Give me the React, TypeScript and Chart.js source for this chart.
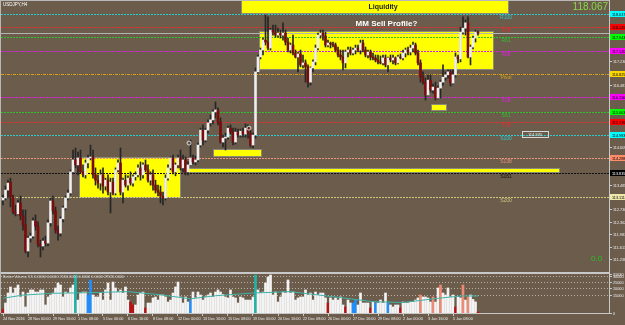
import React, { useEffect, useRef } from "react";
import { Chart, registerables } from "chart.js";

Chart.register(...registerables);

const FONT = "'Liberation Sans', Arial, sans-serif";
const BG = "#6B5C4C";

// ---------- DATA ----------
// USDJPY H4 candles: [open, high, low, close]
const ohlc: [number, number, number, number][] = [
  [113.02,113.17,112.87,113.08],[113.08,113.44,113.02,113.32],[113.32,113.62,113.08,113.53],[113.56,113.68,112.81,113.11],
  [113.11,113.17,112.60,112.66],[112.66,112.87,112.54,112.60],[112.60,113.02,112.57,112.93],[112.93,113.14,112.42,112.54],
  [112.54,112.72,112.11,112.27],[112.27,112.72,111.42,111.48],[111.48,111.93,111.30,111.87],[111.87,112.02,111.75,111.93],
  [111.93,112.48,111.87,112.39],[112.39,112.57,112.11,112.23],[112.23,112.36,111.60,111.69],[111.69,111.81,111.30,111.63],
  [111.63,111.87,111.51,111.78],[111.78,111.93,111.63,111.72],[111.72,112.42,111.63,112.33],[112.33,113.08,112.23,112.99],
  [112.99,113.14,112.60,112.69],[112.69,112.81,112.02,112.11],[112.11,112.23,111.81,112.02],[112.02,112.51,111.93,112.45],
  [112.45,112.84,112.36,112.78],[112.78,113.14,112.72,113.08],[113.08,113.32,113.02,113.23],[113.23,113.93,113.17,113.87],
  [113.87,114.53,113.81,114.23],[114.23,114.59,113.99,114.08],[114.08,114.47,113.78,114.29],[114.29,114.53,113.84,113.87],
  [113.87,114.08,113.72,113.78],[113.78,114.23,113.68,114.14],[114.14,114.38,113.99,114.29],[114.29,114.68,114.23,114.32],
  [114.32,114.53,113.68,113.78],[113.78,113.99,113.47,113.62],[113.62,113.78,113.38,113.53],[113.53,113.93,113.32,113.78],
  [113.78,113.99,113.23,113.44],[113.44,113.68,113.32,113.62],[113.62,113.78,113.17,113.26],[113.26,113.68,112.63,113.56],
  [113.56,113.68,113.17,113.23],[113.23,113.99,113.17,113.93],[113.93,114.23,113.87,114.14],[114.14,114.59,113.17,113.26],
  [113.26,113.68,112.93,113.62],[113.62,113.78,113.41,113.47],[113.47,113.75,113.32,113.68],[113.68,113.87,113.47,113.53],
  [113.53,113.78,113.44,113.72],[113.72,113.87,113.62,113.78],[113.78,114.08,113.72,113.99],[113.99,114.17,113.62,113.78],
  [113.78,114.14,113.68,114.08],[114.08,114.23,113.87,113.93],[113.93,114.08,113.56,113.62],[113.62,113.87,113.47,113.78],
  [113.78,113.93,113.32,113.47],[113.47,113.62,113.23,113.32],[113.32,113.47,113.14,113.26],[113.26,113.44,112.93,113.14],
  [113.14,113.26,112.87,113.08],[113.08,113.78,113.02,113.68],[113.68,114.08,113.62,113.99],[113.99,114.32,113.93,114.29],
  [114.29,114.38,113.81,113.87],[113.87,114.14,113.75,114.08],[114.08,114.38,113.99,114.29],[114.29,114.53,113.93,113.99],
  [113.99,114.38,113.87,114.23],[114.23,114.32,113.78,113.87],[113.87,114.17,113.78,114.08],[114.08,114.83,114.05,114.29],
  [114.29,114.38,114.11,114.17],[114.17,114.35,114.08,114.23],[114.23,114.74,114.17,114.68],[114.68,115.19,114.62,115.13],
  [115.13,115.29,114.68,114.83],[114.83,115.19,114.77,115.13],[115.13,115.44,115.04,115.35],[115.35,115.59,115.25,115.44],
  [115.44,115.74,115.32,115.68],[115.68,115.98,115.50,115.74],[115.74,115.80,115.29,115.38],[115.38,115.50,114.74,114.77],
  [114.77,114.98,114.62,114.89],[114.89,115.04,114.53,114.92],[114.92,115.25,114.86,115.19],[115.19,115.29,115.01,115.07],
  [115.07,115.19,114.68,114.77],[114.77,115.19,114.71,115.07],[115.07,115.16,114.92,114.98],[114.98,115.16,114.92,115.10],
  [115.10,115.19,114.92,115.01],[115.01,115.32,114.92,115.19],[115.19,115.29,114.89,115.04],[115.04,115.13,114.62,114.68],
  [114.68,115.04,114.59,114.98],[114.98,117.01,114.89,116.89],[116.89,117.40,116.86,117.34],[117.34,117.61,117.28,117.55],
  [117.55,117.91,117.40,117.85],[117.85,118.61,117.70,117.79],[117.79,118.55,117.55,117.61],[117.61,118.21,117.55,118.15],
  [118.15,118.30,118.00,118.09],[118.09,118.30,117.94,118.00],[118.00,118.21,117.94,118.06],[118.06,118.15,117.91,118.00],
  [118.00,118.37,117.85,118.06],[118.06,118.15,117.70,117.79],[117.79,117.91,117.49,117.55],[117.55,117.76,117.46,117.70],
  [117.70,118.00,117.40,117.46],[117.46,117.55,117.31,117.34],[117.34,117.49,116.89,117.43],[117.43,117.55,117.04,117.10],
  [117.10,117.40,117.01,117.16],[117.16,117.25,116.58,117.04],[117.04,117.10,116.43,116.58],[116.58,117.04,116.49,117.01],
  [117.01,117.25,116.89,117.19],[117.19,117.70,117.10,117.61],[117.61,118.06,117.55,118.00],[118.00,118.15,117.91,118.06],
  [118.06,118.15,117.85,117.97],[117.97,118.09,117.64,117.70],[117.70,117.85,117.64,117.76],[117.76,117.79,117.61,117.73],
  [117.73,117.79,117.64,117.70],[117.70,117.76,117.49,117.55],[117.55,117.64,117.34,117.40],[117.40,117.55,117.25,117.34],
  [117.34,117.55,116.95,117.16],[117.16,117.55,117.01,117.49],[117.49,117.64,117.34,117.55],[117.55,117.64,117.40,117.46],
  [117.46,117.61,117.40,117.55],[117.55,117.70,117.43,117.61],[117.61,117.70,117.49,117.55],[117.55,117.85,117.43,117.76],
  [117.76,117.85,117.49,117.55],[117.55,117.64,117.34,117.40],[117.40,117.55,117.31,117.49],[117.49,117.55,117.25,117.34],
  [117.34,117.46,117.25,117.31],[117.31,117.40,117.19,117.25],[117.25,117.40,117.13,117.19],[117.19,117.37,117.13,117.16],
  [117.16,117.40,117.10,117.31],[117.31,117.40,117.04,117.10],[117.10,117.34,116.89,117.31],[117.31,117.40,117.19,117.25],
  [117.25,117.40,117.13,117.31],[117.31,117.34,117.10,117.16],[117.16,117.40,117.13,117.34],[117.34,117.43,117.28,117.31],
  [117.31,117.55,117.25,117.46],[117.46,117.61,117.34,117.55],[117.55,117.64,117.40,117.49],[117.49,117.70,117.40,117.61],
  [117.61,117.79,117.49,117.70],[117.70,117.76,117.40,117.46],[117.46,117.55,117.10,117.16],[117.16,117.25,116.58,116.73],
  [116.73,116.89,116.52,116.58],[116.58,116.70,116.04,116.19],[116.19,116.80,116.16,116.64],[116.64,116.80,116.28,116.34],
  [116.34,116.52,116.25,116.43],[116.43,116.58,116.04,116.10],[116.10,116.46,116.07,116.40],[116.40,116.64,116.10,116.58],
  [116.58,117.10,116.49,116.73],[116.73,116.89,116.64,116.80],[116.80,116.95,116.70,116.89],[116.89,116.95,116.46,116.55],
  [116.55,116.95,116.52,116.80],[116.80,117.46,116.73,117.34],[117.34,117.40,117.16,117.28],[117.28,118.24,117.19,118.09],
  [118.09,118.55,118.03,118.21],[118.21,118.46,118.00,118.37],[118.37,118.55,117.31,117.34],[117.34,117.70,117.10,117.64],
  [117.64,117.97,117.58,117.91],[117.91,118.15,117.79,118.09],[118.09,118.12,118.00,118.067],
];

// Better Volume values per bar
const volumes: number[] = [
  3000,8100,16200,21100,16200,20300,22700,13000,17000,4900,16200,18700,18700,17000,17000,18700,18700,6500,13000,14600,
  16200,20300,24300,22700,13000,17000,16200,20300,22700,30800,10500,16200,17000,17000,14600,26800,14600,13000,13000,16200,
  10500,18700,24300,10500,25100,20300,17000,18700,16200,21100,10500,8900,6500,6500,14600,16200,17000,4100,8100,8100,
  12200,13000,10500,14600,14600,13000,8900,10500,16200,21100,25100,13000,8100,13000,8900,10500,17000,12200,17000,14600,
  10500,13000,14600,16200,13000,17000,18700,17000,15000,13000,12200,18700,13000,12200,8100,13000,12200,10500,10500,10500,
  13000,30800,18700,16200,17000,24300,29200,30800,14600,17000,8900,13000,17000,16200,26800,16200,17000,10500,12200,13000,
  13000,18700,14600,16200,10500,17000,14600,16200,16200,12200,8100,12200,10500,12200,10500,13000,6500,4900,10500,8100,
  8100,10500,6500,16200,8100,8100,8100,4100,8900,8100,8100,10500,8100,16200,8100,6500,4900,6500,6500,4100,
  8900,8100,8100,8900,8900,10500,12200,14600,13000,13000,12200,8900,13000,8900,20300,22700,16200,14600,20300,13000,
  14600,4900,13000,12200,22700,10500,13000,14600,11000,9000,800,
];
// bar index -> Better Volume class (r climax, b low, t churn, s climax-churn); others normal
const volClass: Record<number, string> = {
  0: "r", 29: "t", 34: "b", 35: "b", 51: "r", 52: "r", 57: "r", 75: "b", 101: "t", 130: "r", 137: "r",
  140: "b", 141: "b", 147: "r", 149: "b", 154: "b", 159: "r", 167: "s", 172: "s", 175: "s", 181: "r",
  184: "s", 186: "s", 190: "r",
};
const volAvgBars = [0, 8, 20, 35, 50, 62, 75, 85, 100, 115, 132, 148, 160, 174, 183, 190];
const volAvg = [12000, 14500, 16000, 16500, 17300, 15000, 11500, 14000, 16200, 17300, 13200, 9200, 8500, 11900, 13800, 13800];
const volLevels = [30000, 25000, 20000, 15000];
const volMax = 31630;
const volHeader = "Better Volume 1.5 0.0000 0.0000 2556.0000 0.0000 0.0000 29526.0000";

const timeLabelBars = [0, 10, 20, 30, 40, 50, 60, 70, 80, 90, 100, 110, 120, 130, 140, 150, 160, 170, 180];
const timeLabels = [
  "24 Nov 2016", "28 Nov 00:00", "29 Nov 16:00", "1 Dec 08:00", "5 Dec 00:00", "6 Dec 16:00", "8 Dec 08:00",
  "12 Dec 00:00", "13 Dec 16:00", "15 Dec 08:00", "19 Dec 00:00", "20 Dec 16:00", "22 Dec 08:00", "26 Dec 00:00",
  "27 Dec 16:00", "29 Dec 08:00", "2 Jan 00:00", "3 Jan 16:00", "5 Jan 08:00",
];

const priceTicks = [117.230, 116.481, 114.609, 113.485, 112.736, 112.362, 111.987, 111.613, 111.238];

const pivotNames = ["R100", "R78", "R61", "R38", "Pivot", "S38", "S61", "S78", "S100", "S138", "S161", "S200"];
const pivotPrices = [118.637, 118.245, 117.943, 117.520, 116.825, 116.116, 115.663, 115.376, 114.983, 114.288, 113.835, 113.111];
const pivotLabelBar = 201.2;
const bidPrice = 118.067;
const symbolTitle = "USDJPY,H4";
const indicatorValue = "0.0";

// rectangles: [from bar, to bar, high price, low price]
const boxFrom = [30.4, 102.2, 95.2, 84, 73.6, 171.2];
const boxTo = [71.2, 196.4, 202.4, 103.6, 222.8, 177.6];
const boxHigh = [114.32, 118.12, 119.06, 114.56, 113.99, 115.92];
const boxLow = [113.08, 116.95, 118.64, 114.32, 113.84, 115.71];

const textBars = [152, 153.4];
const textPrices = [118.85, 118.35];
const textStrings = ["Liquidity", "MM Sell Profile?"];

const markerBars = [74.4, 98.4];
const markerPrices = [114.74, 115.19];

const priceTagFrom = 207.6;
const priceTagTo = 218;
const priceTagPrice = 114.97;

const X_MIN = -0.8;
const X_MAX = 242.4;
const P_MIN = 110.876;
const P_MAX = 119.03;

// ---------- STYLE ----------
const pivotColors = ["#2EC8C8", "#E03030", "#30C030", "#E020E0", "#D4A017", "#E020E0", "#30C030", "#E03030", "#2EC8C8", "#E9967A", "#101010", "#CFC67E"];
const pivotTagColors = ["#00FFFF", "#FF0000", "#00FF00", "#FF00FF", "#FFD700", "#FF00FF", "#00FF00", "#FF0000", "#00FFFF", "#FF8C69", "#000000", "#EEE8AA"];
const volColorMap: Record<string, string> = { r: "#B81212", b: "#1E8FFF", t: "#1FB5A8", s: "#F08A74" };

const mainDecor = {
  id: "mainDecor",
  beforeDatasetsDraw(chart: any) {
    const { ctx, chartArea: a, scales } = chart;
    const x = scales.x, y = scales.y;
    ctx.save();
    ctx.beginPath();
    ctx.rect(a.left, a.top, a.right - a.left, a.bottom - a.top);
    ctx.clip();
    for (let k = 0; k < boxFrom.length; k++) {
      const x0 = Math.round(x.getPixelForValue(boxFrom[k]));
      const x1 = Math.round(x.getPixelForValue(boxTo[k]));
      const y0 = Math.round(y.getPixelForValue(boxHigh[k]));
      const y1 = Math.round(y.getPixelForValue(boxLow[k]));
      ctx.fillStyle = "#FFFF00";
      ctx.fillRect(x0, y0, x1 - x0, y1 - y0);
      ctx.strokeStyle = "#8A8A78";
      ctx.lineWidth = 1;
      ctx.strokeRect(x0 + 0.5, y0 + 0.5, x1 - x0 - 1, y1 - y0 - 1);
    }
    for (let k = 0; k < pivotPrices.length; k++) {
      const py = Math.round(y.getPixelForValue(pivotPrices[k])) + 0.5;
      ctx.strokeStyle = pivotColors[k];
      ctx.lineWidth = 1;
      ctx.setLineDash(pivotNames[k] === "Pivot" ? [3, 1, 1, 1] : [2, 1]);
      ctx.beginPath();
      ctx.moveTo(a.left, py);
      ctx.lineTo(a.right, py);
      ctx.stroke();
    }
    ctx.setLineDash([]);
    const by = Math.round(y.getPixelForValue(bidPrice)) + 0.5;
    ctx.strokeStyle = "#B4B4B4";
    ctx.beginPath();
    ctx.moveTo(a.left, by);
    ctx.lineTo(a.right, by);
    ctx.stroke();
    ctx.restore();
  },
  afterDatasetsDraw(chart: any) {
    const { ctx, scales } = chart;
    const x = scales.x, y = scales.y;
    ctx.save();
    ctx.font = `5px ${FONT}`;
    ctx.textAlign = "center";
    ctx.textBaseline = "top";
    for (let k = 0; k < pivotPrices.length; k++) {
      ctx.fillStyle = pivotColors[k];
      ctx.fillText(pivotNames[k], x.getPixelForValue(pivotLabelBar), y.getPixelForValue(pivotPrices[k]) + 1);
    }
    ctx.textBaseline = "middle";
    ctx.font = `bold 7px ${FONT}`;
    ctx.fillStyle = "#1E1E14";
    ctx.fillText(textStrings[0], x.getPixelForValue(textBars[0]), y.getPixelForValue(textPrices[0]));
    ctx.font = `bold 8px ${FONT}`;
    ctx.fillStyle = "#FFFFFF";
    ctx.fillText(textStrings[1], x.getPixelForValue(textBars[1]), y.getPixelForValue(textPrices[1]));
    const tx0 = Math.round(x.getPixelForValue(priceTagFrom));
    const tx1 = Math.round(x.getPixelForValue(priceTagTo));
    const ty = Math.round(y.getPixelForValue(priceTagPrice));
    ctx.strokeStyle = "#D8D8D8";
    ctx.lineWidth = 1;
    ctx.strokeRect(tx0 + 0.5, ty - 3.5, tx1 - tx0, 6);
    ctx.fillStyle = "#EDEDED";
    ctx.font = `4px ${FONT}`;
    ctx.fillText(priceTagPrice.toFixed(3), (tx0 + tx1) / 2, ty);
    ctx.restore();
  },
  afterDraw(chart: any) {
    const { ctx, chartArea: a, scales, height } = chart;
    const y = scales.y;
    ctx.save();
    ctx.fillStyle = "#B8B8B8";
    ctx.fillRect(0, 0, a.right, 1);
    ctx.fillRect(0, 0, 1, height);
    ctx.fillStyle = "#C8C8C8";
    ctx.fillRect(a.right, 0, 1, height);
    ctx.font = `3.8px ${FONT}`;
    ctx.textAlign = "left";
    ctx.textBaseline = "middle";
    for (const p of priceTicks) {
      const py = Math.round(y.getPixelForValue(p));
      ctx.fillStyle = "#C8C8C8";
      ctx.fillRect(a.right, py, 3, 1);
      ctx.fillStyle = "#ECECEC";
      ctx.fillText(p.toFixed(3), a.right + 4, py + 0.5);
    }
    for (let k = 0; k < pivotPrices.length; k++) {
      const py = Math.round(y.getPixelForValue(pivotPrices[k]));
      ctx.fillStyle = pivotTagColors[k];
      ctx.fillRect(a.right + 1, py - 3, 16, 6);
      ctx.fillStyle = pivotTagColors[k] === "#000000" ? "#FFFFFF" : "#000000";
      ctx.fillText(pivotPrices[k].toFixed(3), a.right + 3, py + 0.5);
    }
    ctx.font = `10px ${FONT}`;
    ctx.textAlign = "right";
    ctx.textBaseline = "top";
    ctx.fillStyle = "#86D84A";
    ctx.fillText(bidPrice.toFixed(3), a.right - 1, 2);
    ctx.font = `8px ${FONT}`;
    ctx.textAlign = "left";
    ctx.textBaseline = "middle";
    ctx.fillStyle = "#22C422";
    ctx.fillText(indicatorValue, a.right - 18, 259);
    ctx.font = `4.5px ${FONT}`;
    ctx.textBaseline = "top";
    ctx.fillStyle = "#FFFFFF";
    ctx.fillText(symbolTitle, 3, 3);
    ctx.restore();
  },
};

const volDecor = {
  id: "volDecor",
  beforeDatasetsDraw(chart: any) {
    const { ctx, chartArea: a, scales } = chart;
    const y = scales.y;
    ctx.save();
    ctx.strokeStyle = "#B9B0A4";
    ctx.lineWidth = 1;
    ctx.setLineDash([1, 2]);
    for (const v of volLevels) {
      const py = Math.round(y.getPixelForValue(v)) + 0.5;
      ctx.beginPath();
      ctx.moveTo(a.left, py);
      ctx.lineTo(a.right, py);
      ctx.stroke();
    }
    ctx.restore();
  },
  afterDraw(chart: any) {
    const { ctx, chartArea: a, scales } = chart;
    const y = scales.y;
    ctx.save();
    ctx.fillStyle = "#C8C8C8";
    ctx.fillRect(0, 0, a.right, 2);
    ctx.fillRect(a.right, 0, 1, a.bottom + 1);
    ctx.fillStyle = "#B8B8B8";
    ctx.fillRect(0, 0, 1, a.bottom);
    ctx.font = `3.8px ${FONT}`;
    ctx.textAlign = "left";
    ctx.textBaseline = "middle";
    const lv = [volMax, ...volLevels, 0];
    for (const v of lv) {
      const py = Math.round(y.getPixelForValue(v));
      ctx.fillStyle = "#C8C8C8";
      ctx.fillRect(a.right, py, 3, 1);
      ctx.fillStyle = "#ECECEC";
      ctx.fillText(String(v), a.right + 4, py + 0.5);
    }
    ctx.font = `3.8px ${FONT}`;
    ctx.textBaseline = "middle";
    ctx.fillStyle = "#DADADA";
    ctx.fillText(volHeader, 3, a.top + 2.5);
    ctx.restore();
  },
};

export default function App() {
  const mainRef = useRef<HTMLCanvasElement>(null);
  const volRef = useRef<HTMLCanvasElement>(null);

  useEffect(() => {
    Chart.defaults.font.family = FONT;
    const wickData = ohlc.map((c, i) => ({ x: i, y: [c[2], c[1]] }));
    const bodyData = ohlc.map((c, i) => ({ x: i, y: [Math.min(c[0], c[3]), Math.max(c[0], c[3])] }));
    const bodyColors = ohlc.map((c) => (c[3] >= c[0] ? "#EEEEEE" : "#7B0C0C"));
    const markers = markerBars.map((b, k) => ({ x: b, y: markerPrices[k] }));

    const main = new Chart(mainRef.current as HTMLCanvasElement, {
      type: "bar",
      data: {
        datasets: [
          {
            type: "scatter",
            data: markers,
            pointStyle: "circle",
            pointRadius: 2,
            borderColor: "#D8D8D8",
            backgroundColor: "rgba(0,0,0,0)",
            borderWidth: 1,
            order: 0,
          } as any,
          {
            data: bodyData,
            backgroundColor: bodyColors,
            barThickness: 2,
            grouped: false,
            minBarLength: 1,
            order: 1,
          } as any,
          {
            data: wickData,
            backgroundColor: "#262626",
            barThickness: 1,
            grouped: false,
            order: 2,
          } as any,
        ],
      },
      options: {
        responsive: false,
        animation: false,
        devicePixelRatio: 1,
        events: [],
        layout: { autoPadding: false, padding: { left: 1, right: 16, top: 1, bottom: 1 } },
        plugins: { legend: { display: false }, tooltip: { enabled: false } },
        scales: {
          x: { type: "linear", min: X_MIN, max: X_MAX, offset: false, display: false, grid: { offset: false } },
          y: { type: "linear", min: P_MIN, max: P_MAX, display: false },
        },
      } as any,
      plugins: [mainDecor],
    });

    const volData = volumes.map((v, i) => ({ x: i, y: v }));
    const volColors = volumes.map((_, i) => volColorMap[volClass[i]] || "#F4F4F4");
    const avgData = volAvgBars.map((b, k) => ({ x: b, y: volAvg[k] }));

    const vol = new Chart(volRef.current as HTMLCanvasElement, {
      type: "bar",
      data: {
        datasets: [
          {
            type: "line",
            data: avgData,
            borderColor: "#3FB3A8",
            borderWidth: 1,
            pointRadius: 0,
            order: 0,
          } as any,
          {
            data: volData,
            backgroundColor: volColors,
            barThickness: 2,
            grouped: false,
            order: 1,
          } as any,
        ],
      },
      options: {
        responsive: false,
        animation: false,
        devicePixelRatio: 1,
        events: [],
        layout: { autoPadding: false, padding: { left: 1, right: 16, top: 2, bottom: 0 } },
        plugins: { legend: { display: false }, tooltip: { enabled: false } },
        scales: {
          x: {
            type: "linear",
            min: X_MIN,
            max: X_MAX,
            offset: false,
            afterBuildTicks: (s: any) => {
              s.ticks = timeLabelBars.map((v) => ({ value: v }));
            },
            afterFit: (s: any) => {
              s.height = 12;
            },
            ticks: {
              autoSkip: false,
              maxRotation: 0,
              minRotation: 0,
              align: "start",
              padding: 1,
              font: { size: 3.8, family: FONT },
              color: "#ECECEC",
              callback: (_v: any, i: number) => timeLabels[i] ?? "",
            },
            grid: { drawOnChartArea: false, tickLength: 3, color: "#C8C8C8", offset: false },
            border: { display: true, color: "#C8C8C8" },
          },
          y: { type: "linear", min: 0, max: volMax, display: false },
        },
      } as any,
      plugins: [volDecor],
    });

    return () => {
      main.destroy();
      vol.destroy();
    };
  }, []);

  return (
    <div
      style={{
        position: "fixed",
        left: 0,
        top: 0,
        width: 625,
        height: 325,
        background: BG,
        overflow: "hidden",
      }}
    >
      <canvas
        ref={mainRef}
        width={625}
        height={272}
        style={{ position: "absolute", left: 0, top: 0, width: 625, height: 272 }}
      />
      <canvas
        ref={volRef}
        width={625}
        height={53}
        style={{ position: "absolute", left: 0, top: 272, width: 625, height: 53 }}
      />
    </div>
  );
}
